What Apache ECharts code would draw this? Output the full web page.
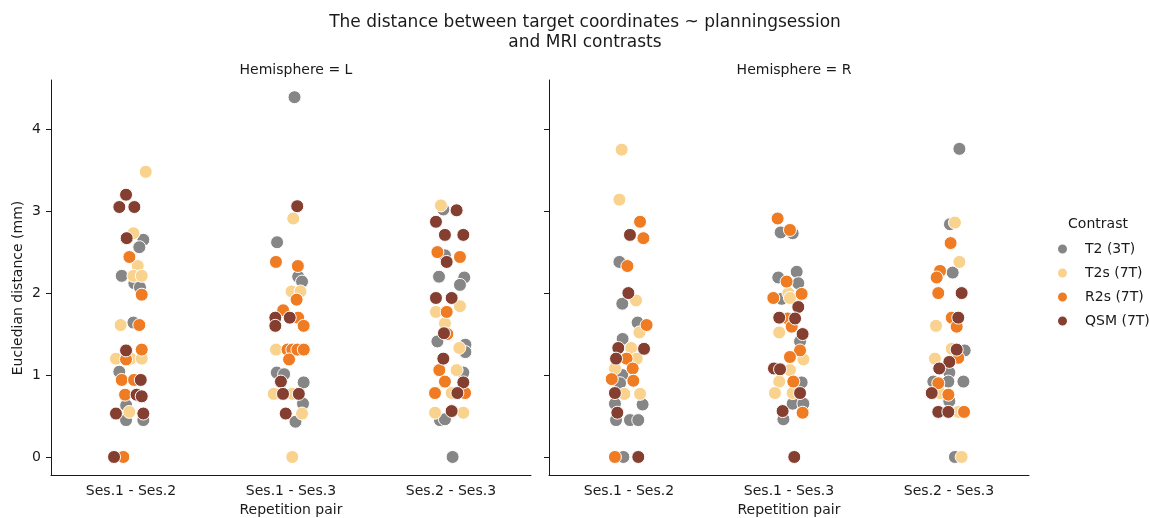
<!DOCTYPE html>
<html>
<head>
<meta charset="utf-8">
<title>Distance between target coordinates</title>
<script src="https://cdn.jsdelivr.net/npm/echarts@6/dist/echarts.min.js"></script>
<style>
  html, body { margin: 0; padding: 0; background: #fff; }
  #chart { width: 1149px; height: 518px; }
</style>
</head>
<body>
<div id="chart"></div>
<script>
// categories and tick labels
var pairs = ['Ses.1 - Ses.2', 'Ses.1 - Ses.3', 'Ses.2 - Ses.3'];
var yTicks = [0, 1, 2, 3, 4];
var contrasts = ['T2 (3T)', 'T2s (7T)', 'R2s (7T)', 'QSM (7T)'];
var colors = ['#868686', '#f9d28e', '#ef7c22', '#843f30'];

// points: [pair index + jitter, distance in mm]
var L_T2 = [[0.077,2.65],[0.052,2.56],[-0.058,2.21],[0.021,2.12],[0.056,2.07],[0.015,1.64],[-0.073,1.04],
  [-0.03,0.63],[-0.031,0.45],[0.077,0.45],
  [1.022,4.39],[0.913,2.62],[1.045,2.20],[1.069,2.14],[0.911,1.03],[0.957,1.01],[1.079,0.91],[1.075,0.65],[1.028,0.43],
  [1.952,3.02],[1.962,2.46],[1.925,2.20],[2.083,2.19],[2.056,2.10],[1.915,1.41],[2.090,1.37],[2.090,1.28],
  [2.077,1.03],[1.931,0.45],[1.962,0.46],[2.010,0]];
var L_T2s = [[0.092,3.48],[0.015,2.73],[0.042,2.33],[0.015,2.21],[0.067,2.21],[-0.065,1.61],[-0.094,1.20],
  [-0.002,1.20],[0.067,1.20],[-0.010,0.55],
  [1.014,2.91],[1.004,2.02],[1.059,2.02],[0.906,1.31],[1.035,1.31],[0.892,0.77],[1.008,0.77],[1.069,0.53],[1.008,0],
  [1.937,3.07],[2.056,1.84],[1.906,1.77],[1.962,1.63],[2.052,1.33],[2.035,1.06],[2.004,0.78],[1.900,0.54],[2.077,0.54]];
var L_R2s = [[-0.010,2.44],[0.067,1.98],[0.052,1.61],[0.067,1.31],[-0.031,1.19],[-0.058,0.94],[0.019,0.94],
  [-0.037,0.76],[-0.048,0],
  [0.906,2.38],[1.043,2.33],[1.035,1.92],[0.951,1.79],[1.045,1.70],[1.079,1.60],[0.978,1.31],[1.008,1.31],
  [1.040,1.31],[1.080,1.31],[0.988,1.19],
  [1.915,2.50],[2.056,2.44],[1.973,1.77],[1.977,1.50],[1.927,1.06],[1.962,0.92],[1.900,0.78],[2.088,0.78]];
var L_QSM = [[-0.031,3.20],[-0.073,3.05],[0.021,3.05],[-0.027,2.67],[-0.031,1.30],[0.061,0.94],[0.035,0.76],
  [0.067,0.74],[-0.094,0.53],[0.077,0.53],[-0.106,0],
  [1.039,3.06],[0.902,1.70],[0.992,1.70],[0.902,1.60],[0.937,0.92],[0.950,0.77],[1.049,0.77],[0.967,0.53],
  [2.035,3.01],[1.906,2.87],[1.962,2.71],[2.077,2.71],[1.973,2.38],[1.906,1.94],[2.004,1.94],[1.956,1.51],
  [1.952,1.20],[2.077,0.91],[2.040,0.78],[2.004,0.56]];

var R_T2 = [[-0.060,2.38],[-0.042,1.87],[0.054,1.64],[-0.040,1.44],[-0.042,1.00],[-0.056,0.90],[-0.088,0.65],
  [0.085,0.64],[-0.081,0.45],[0.006,0.45],[0.058,0.45],[-0.035,0],
  [0.948,2.74],[1.023,2.73],[0.933,2.19],[1.048,2.26],[1.058,2.12],[0.954,1.93],[1.069,1.41],[1.079,0.91],
  [1.023,0.65],[1.090,0.65],[0.965,0.46],
  [2.065,3.76],[2.006,2.84],[2.023,2.25],[2.098,1.30],[2.002,1.03],[1.902,0.92],[1.996,0.92],[2.090,0.92],
  [2.002,0.68],[2.037,0]];
var R_T2s = [[-0.046,3.75],[-0.060,3.14],[0.044,1.91],[0.065,1.52],[0.013,1.33],[0.048,1.20],[-0.088,1.08],
  [-0.029,0.77],[0.069,0.77],
  [0.996,2.00],[1.038,1.93],[1.006,1.94],[0.939,1.52],[1.090,1.19],[1.006,1.06],[0.939,0.92],[0.912,0.78],[1.023,0.78],
  [2.037,2.86],[2.065,2.38],[1.919,1.60],[2.017,1.32],[1.912,1.20],[1.944,0.78],[2.058,0.55],[2.079,0]];
var R_R2s = [[0.069,2.87],[0.090,2.67],[-0.010,2.33],[0.110,1.61],[-0.015,1.20],[0.023,1.08],[-0.108,0.95],
  [0.027,0.93],[-0.088,0],
  [0.929,2.91],[1.006,2.77],[0.985,2.14],[1.079,1.99],[0.902,1.94],[0.992,1.69],[1.017,1.59],[1.069,1.30],
  [1.006,1.22],[1.027,0.92],[1.085,0.54],
  [2.010,2.61],[1.944,2.27],[1.923,2.19],[1.933,2.00],[2.017,1.70],[2.048,1.59],[2.058,1.21],[1.933,0.90],
  [1.996,0.76],[2.094,0.55]];
var R_QSM = [[0.006,2.71],[-0.004,2.00],[-0.067,1.33],[0.094,1.32],[-0.081,1.20],[-0.088,0.78],[-0.073,0.54],[0.058,0],
  [1.058,1.83],[0.939,1.70],[1.038,1.69],[1.085,1.50],[0.906,1.08],[0.944,1.07],[1.069,0.78],[0.960,0.56],[1.033,0],
  [2.079,2.00],[2.058,1.70],[2.048,1.31],[2.002,1.16],[1.939,1.08],[1.892,0.78],[1.933,0.55],[1.996,0.55]];

var panels = [[L_T2, L_T2s, L_R2s, L_QSM], [R_T2, R_T2s, R_R2s, R_QSM]];

var font = 'DejaVu Sans';
var ink = '#1a1a1a';

var chart = echarts.init(document.getElementById('chart'), null, { renderer: 'canvas' });

var grids = [
  { left: 51, top: 80, width: 480, height: 395, containLabel: false, outerBoundsMode: 'none' },
  { left: 549, top: 80, width: 480, height: 395, containLabel: false, outerBoundsMode: 'none' }
];

var xAxes = [], yAxes = [], series = [];
for (var g = 0; g < 2; g++) {
  // visible category axis for the labels
  xAxes.push({
    type: 'category', gridIndex: g, data: pairs, boundaryGap: true, position: 'bottom',
    name: 'Repetition pair', nameLocation: 'middle', nameGap: 28,
    nameTextStyle: { fontFamily: font, fontSize: 14, color: ink },
    axisLine: { onZero: false, lineStyle: { color: ink, width: 1 } },
    axisTick: { alignWithLabel: true, length: 5, lineStyle: { color: ink } },
    axisLabel: { margin: 9, fontFamily: font, fontSize: 14, color: ink },
    splitLine: { show: false }
  });
  // hidden value axis that places the jittered points
  xAxes.push({ type: 'value', gridIndex: g, min: -0.5, max: 2.5, show: false,
    axisLine: { onZero: false } });
  yAxes.push({
    type: 'value', gridIndex: g, min: -0.22, max: 4.6, position: 'left',
    axisLine: { show: true, onZero: false, lineStyle: { color: ink, width: 1 } },
    axisTick: { show: true, length: 5, customValues: yTicks, lineStyle: { color: ink } },
    axisLabel: { show: g === 0, customValues: yTicks, margin: 10, fontFamily: font, fontSize: 14, color: ink },
    splitLine: { show: false }
  });
  for (var c = 0; c < 4; c++) {
    series.push({
      name: contrasts[c], type: 'scatter',
      xAxisIndex: g * 2 + 1, yAxisIndex: g,
      data: panels[g][c], symbolSize: 13,
      itemStyle: { color: colors[c], opacity: 1, borderColor: '#ffffff', borderWidth: 1 },
      emphasis: { disabled: true },
      z: 2 + c
    });
  }
}

chart.setOption({
  animation: false,
  color: colors,
  title: [
    { text: 'The distance between target coordinates ~ planningsession\nand MRI contrasts',
      left: 580, top: 8, textAlign: 'center',
      textStyle: { fontFamily: font, fontSize: 17, fontWeight: 'normal', color: ink, lineHeight: 20 } },
    { text: 'Hemisphere = L', left: 291, top: 58, textAlign: 'center',
      textStyle: { fontFamily: font, fontSize: 14, fontWeight: 'normal', color: ink } },
    { text: 'Hemisphere = R', left: 789, top: 58, textAlign: 'center',
      textStyle: { fontFamily: font, fontSize: 14, fontWeight: 'normal', color: ink } },
    { text: 'Contrast', left: 1093, top: 212, textAlign: 'center',
      textStyle: { fontFamily: font, fontSize: 14, fontWeight: 'normal', color: ink } }
  ],
  legend: {
    data: contrasts, orient: 'vertical', left: 1051, top: 237,
    icon: 'circle', itemWidth: 11, itemHeight: 11, itemGap: 10,
    textStyle: { fontFamily: font, fontSize: 14, color: ink, padding: [0, 0, 0, 12] },
    selectedMode: false
  },
  graphic: [{
    type: 'text', x: 18, y: 288, rotation: Math.PI / 2,
    style: { text: 'Eucledian distance (mm)', fontFamily: font, fontSize: 14, fill: ink,
      align: 'center', verticalAlign: 'middle' }
  }],
  grid: grids,
  xAxis: xAxes,
  yAxis: yAxes,
  series: series
});
</script>
</body>
</html>
